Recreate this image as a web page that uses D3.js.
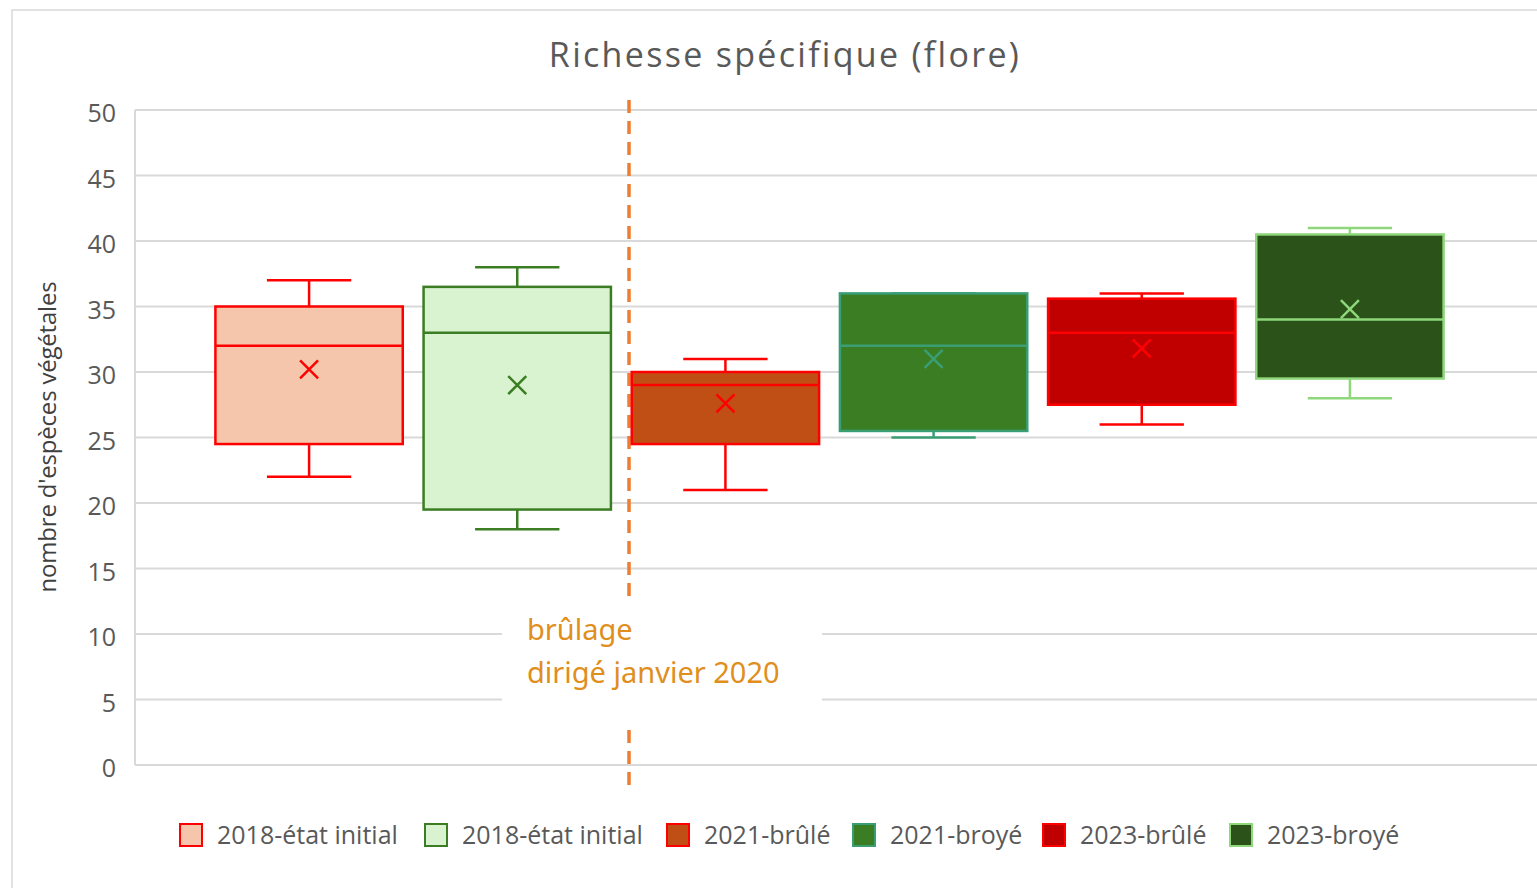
<!DOCTYPE html>
<html>
<head>
<meta charset="utf-8">
<script src="https://cdn.jsdelivr.net/npm/d3@7"></script>
<style>
  body { margin: 0; background: #fff; }
  svg { display: block; font-family: "Open Sans", "Noto Sans", sans-serif; }
</style>
</head>
<body>
<svg id="chart" width="1537" height="888"></svg>
<script>
// data
const series = ["s1", "s2", "s3", "s4", "s5", "s6"];
const legendLabels = ["2018-état initial", "2018-état initial", "2021-brûlé", "2021-broyé", "2023-brûlé", "2023-broyé"];
const minVals = [22, 18, 21, 25, 26, 28];
const q1Vals = [24.5, 19.5, 24.5, 25.5, 27.5, 29.5];
const medianVals = [32, 33, 29, 32, 33, 34];
const q3Vals = [35, 36.5, 30, 36, 35.6, 40.5];
const maxVals = [37, 38, 31, 36, 36, 41];
const meanVals = [30.2, 29, 27.6, 31, 31.8, 34.8];
const yTicks = [0, 5, 10, 15, 20, 25, 30, 35, 40, 45, 50];

const fills = ["#F5C6AB", "#D9F2D0", "#C04F15", "#3B7D23", "#C00000", "#2A5219"];
const strokes = ["#FF0000", "#3A7D22", "#FF0000", "#3A9E74", "#FF0000", "#8ED77A"];

const svg = d3.select('#chart');
const plotLeft = 135, plotRight = 1537, plotTop = 110, plotBottom = 765;

// chart frame
svg.append('rect')
    .attr('x', 12).attr('y', 10)
    .attr('width', 1537).attr('height', 900)
    .attr('fill', '#fff')
    .attr('stroke', '#d9d9d9')
    .attr('stroke-width', 1.5);

const yScale = d3.scaleLinear().domain([0, 50]).range([plotBottom, plotTop]);
const xScale = d3.scaleBand()
    .domain(series)
    .range([205, 1454])
    .paddingInner(0.1)
    .paddingOuter(0.05);

// gridlines
svg.append('g')
    .selectAll('line')
    .data(yTicks)
    .join('line')
    .attr('x1', plotLeft).attr('x2', plotRight)
    .attr('y1', d => yScale(d)).attr('y2', d => yScale(d))
    .attr('stroke', '#d9d9d9')
    .attr('stroke-width', 2);

// left axis line
svg.append('line')
    .attr('x1', plotLeft).attr('x2', plotLeft)
    .attr('y1', yScale(50)).attr('y2', yScale(0))
    .attr('stroke', '#d9d9d9')
    .attr('stroke-width', 2);

// y axis labels
const yAxis = d3.axisLeft(yScale).tickValues(yTicks).tickSize(0).tickPadding(0);
const yAxisG = svg.append('g')
    .attr('transform', 'translate(116, 3)')
    .call(yAxis);
yAxisG.select('.domain').remove();
yAxisG.selectAll('text')
    .attr('font-size', 25)
    .attr('font-family', '"Open Sans", sans-serif')
    .attr('fill', '#595959')
    .attr('dy', '0.35em');

// y axis title
svg.append('text')
    .attr('transform', 'translate(56, 437) rotate(-90)')
    .attr('text-anchor', 'middle')
    .attr('font-size', 24)
    .attr('letter-spacing', -0.2)
    .attr('fill', '#404040')
    .text("nombre d'espèces végétales");

// title
svg.append('text')
    .attr('x', 785).attr('y', 67)
    .attr('text-anchor', 'middle')
    .attr('font-size', 34)
    .attr('fill', '#595959')
    .attr('letter-spacing', 2.3)
    .text('Richesse spécifique (flore)');

// dashed event line
svg.append('line')
    .attr('x1', 629).attr('x2', 629)
    .attr('y1', 100).attr('y2', 790)
    .attr('stroke', '#ED7D31')
    .attr('stroke-width', 3.5)
    .attr('stroke-dasharray', '13 8');

// boxes
const bw = xScale.bandwidth();
const capW = bw * 0.45;
const boxes = svg.append('g')
    .selectAll('g')
    .data(series)
    .join('g');

boxes.each(function(s, i) {
    const g = d3.select(this);
    const x0 = xScale(s);
    const cx = x0 + bw / 2;
    const sw = 2.5;
    // whiskers
    g.append('line')
        .attr('x1', cx).attr('x2', cx)
        .attr('y1', yScale(maxVals[i])).attr('y2', yScale(q3Vals[i]))
        .attr('stroke', strokes[i]).attr('stroke-width', sw);
    g.append('line')
        .attr('x1', cx).attr('x2', cx)
        .attr('y1', yScale(q1Vals[i])).attr('y2', yScale(minVals[i]))
        .attr('stroke', strokes[i]).attr('stroke-width', sw);
    g.append('line')
        .attr('x1', cx - capW / 2).attr('x2', cx + capW / 2)
        .attr('y1', yScale(maxVals[i])).attr('y2', yScale(maxVals[i]))
        .attr('stroke', strokes[i]).attr('stroke-width', sw);
    g.append('line')
        .attr('x1', cx - capW / 2).attr('x2', cx + capW / 2)
        .attr('y1', yScale(minVals[i])).attr('y2', yScale(minVals[i]))
        .attr('stroke', strokes[i]).attr('stroke-width', sw);
    // box
    g.append('rect')
        .attr('x', x0).attr('width', bw)
        .attr('y', yScale(q3Vals[i]))
        .attr('height', yScale(q1Vals[i]) - yScale(q3Vals[i]))
        .attr('fill', fills[i])
        .attr('stroke', strokes[i]).attr('stroke-width', sw);
    // median
    g.append('line')
        .attr('x1', x0).attr('x2', x0 + bw)
        .attr('y1', yScale(medianVals[i])).attr('y2', yScale(medianVals[i]))
        .attr('stroke', strokes[i]).attr('stroke-width', sw);
    // mean marker
    const my = yScale(meanVals[i]);
    const m = 9;
    g.append('path')
        .attr('d', `M${cx - m},${my - m}L${cx + m},${my + m}M${cx - m},${my + m}L${cx + m},${my - m}`)
        .attr('stroke', strokes[i]).attr('stroke-width', 2.5)
        .attr('fill', 'none');
});

// annotation
svg.append('rect')
    .attr('x', 502).attr('y', 597)
    .attr('width', 320).attr('height', 127)
    .attr('fill', '#fff');
const ann = svg.append('text')
    .attr('font-family', '"Noto Sans", sans-serif')
    .attr('font-size', 29)
    .attr('fill', '#E08E1C');
ann.append('tspan').attr('x', 527).attr('y', 640).text('brûlage');
ann.append('tspan').attr('x', 527).attr('y', 683).text('dirigé janvier 2020');

// legend
const legendX = [180, 425, 667, 853, 1043, 1230];
const legend = svg.append('g')
    .selectAll('g')
    .data(series)
    .join('g')
    .attr('transform', (d, i) => `translate(${legendX[i]}, 824)`);
legend.append('rect')
    .attr('width', 22).attr('height', 22)
    .attr('fill', (d, i) => fills[i])
    .attr('stroke', (d, i) => strokes[i])
    .attr('stroke-width', 2);
legend.append('text')
    .attr('x', 37).attr('y', 11)
    .attr('dy', '0.35em')
    .attr('font-size', 25)
    .attr('fill', '#595959')
    .text((d, i) => legendLabels[i]);
</script>
</body>
</html>
